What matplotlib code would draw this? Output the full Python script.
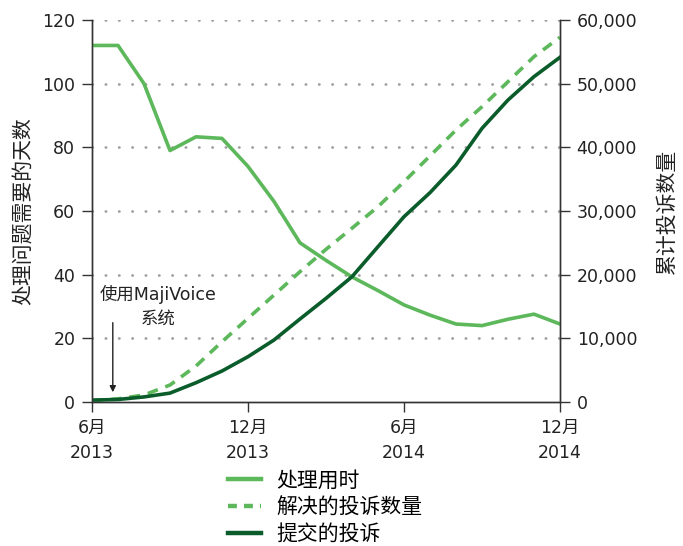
import numpy as np
import matplotlib
matplotlib.use('Agg')
import matplotlib.pyplot as plt
from matplotlib.lines import Line2D

plt.rcParams['font.family'] = ['DejaVu Sans', 'Noto Sans CJK SC']

# Dados mensais: jun/2013 a dez/2014
meses = np.arange(19)
dias_processamento = [112, 112, 100, 79, 83.3, 82.8, 74, 63, 50, 44.5, 39.3, 35, 30.5,
                      27.3, 24.5, 24.0, 26.0, 27.6, 24.5]
resolvidas = [200, 500, 1100, 2670, 5650, 9470, 13140, 16800, 20470, 23980, 27300,
              30680, 34600, 38650, 42720, 46380, 50310, 54240, 57280]
submetidas = [300, 400, 800, 1400, 3030, 4870, 7120, 9740, 13040, 16280, 19680,
              24400, 29100, 32880, 37220, 42980, 47430, 51100, 54140]
rotulos_x = ['6月\n2013', '12月\n2013', '6月\n2014', '12月\n2014']
posicoes_x = [0, 6, 12, 18]

verde_claro = '#5cb85a'
verde_escuro = '#0b5c2b'
cinza = '#333333'
texto = '#222222'

fig = plt.figure(figsize=(6.83, 5.46), dpi=100)
ax = fig.add_axes([0.1347, 0.2637, 0.6852, 0.6997])
ax2 = ax.twinx()

# Grade pontilhada
for v in range(20, 121, 20):
    ax.axhline(v, color='#a0a0a0', linewidth=2.0, linestyle=(0, (0.1, 4.7)),
               dash_capstyle='round', zorder=0)

ax.plot(meses, dias_processamento, color=verde_claro, linewidth=2.6, zorder=3)
ax2.plot(meses, resolvidas, color=verde_claro, linewidth=2.6, linestyle=(0, (3, 2.2)))
ax2.plot(meses, submetidas, color=verde_escuro, linewidth=2.6)

ax.set_xlim(0, 18)
ax.set_ylim(0, 120)
ax2.set_ylim(0, 60000)
ax.set_yticks(range(0, 121, 20))
ax2.set_yticks(range(0, 60001, 10000))
ax2.set_yticklabels([f'{v:,}' for v in range(0, 60001, 10000)])
ax.set_xticks(posicoes_x)
ax.set_xticklabels(rotulos_x, linespacing=1.55)

for a in (ax, ax2):
    a.spines['top'].set_visible(False)
    for s in ('left', 'right', 'bottom'):
        a.spines[s].set_color(cinza)
        a.spines[s].set_linewidth(1.0)
    a.tick_params(colors=cinza, labelcolor=texto, labelsize=12.5, length=7,
                  width=1.0, direction='out', pad=5)

ax.set_ylabel('处理问题需要的天数', fontsize=15, color=texto, labelpad=6)
ax2.set_ylabel('累计投诉数量', fontsize=15, color=texto, labelpad=14)

# Anotação
ax.annotate('', xy=(0.8, 2.2), xytext=(0.8, 25.8),
            arrowprops=dict(arrowstyle='-|>', color=texto, lw=1.0,
                            mutation_scale=9))
ax.text(2.55, 30, '使用MajiVoice\n系统', ha='center', va='center', fontsize=12.5,
        color=texto, linespacing=1.45)

# Legenda
handles = [Line2D([], [], color=verde_claro, linewidth=3.2),
           Line2D([], [], color=verde_claro, linewidth=3.2, linestyle=(0, (2, 1.6))),
           Line2D([], [], color=verde_escuro, linewidth=3.2)]
fig.legend(handles, ['处理用时', '解决的投诉数量', '提交的投诉'], loc='upper left',
           bbox_to_anchor=(0.334, 0.138), frameon=False, fontsize=15,
           handlelength=1.6, handletextpad=0.7, labelspacing=0.32,
           borderpad=0, borderaxespad=0)

fig.savefig('out.png', dpi=100)
